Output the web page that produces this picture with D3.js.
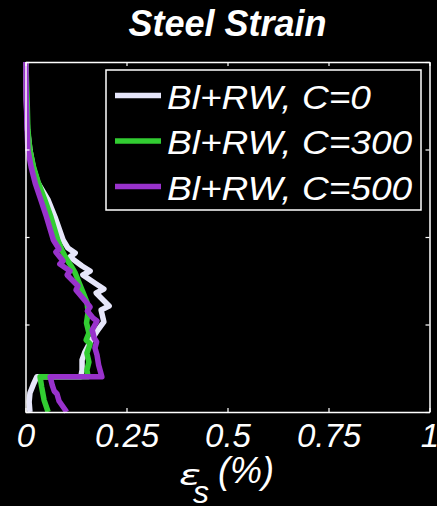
<!DOCTYPE html>
<html>
<head>
<meta charset="utf-8">
<script src="https://cdn.jsdelivr.net/npm/d3@7"></script>
<style>
  html, body { margin: 0; padding: 0; background: #000; }
  svg { display: block; }
  text { font-family: "Liberation Sans", Arial, sans-serif; fill: #fff; }
</style>
</head>
<body>
<svg id="chart" width="437" height="506"></svg>
<script>
// Steel strain profiles (strain in %, height along the member)
const seriesNames = ["Bl+RW, C=0", "Bl+RW, C=300", "Bl+RW, C=500"];
const seriesColors = ["#e6e6fa", "#32cd32", "#9932cc"];

const strainC0 = [
  [0.001, 4.0], [0.002, 3.566], [0.005, 3.223], [0.011, 2.994], [0.019, 2.8],
  [0.031, 2.617], [0.056, 2.423], [0.073, 2.229], [0.093, 1.966], [0.105, 1.874],
  [0.123, 1.817], [0.110, 1.771], [0.140, 1.669], [0.160, 1.611], [0.142, 1.566],
  [0.175, 1.463], [0.194, 1.406], [0.175, 1.36], [0.192, 1.28], [0.207, 1.211],
  [0.187, 1.166], [0.194, 1.029], [0.179, 0.937], [0.160, 0.8], [0.147, 0.686],
  [0.140, 0.594], [0.140, 0.48], [0.137, 0.403], [0.028, 0.403], [0.019, 0.309],
  [0.011, 0.217], [0.009, 0.114], [0.011, 0]
];
const strainC300 = [
  [0.001, 4.0], [0.004, 3.566], [0.006, 3.223], [0.011, 2.994], [0.020, 2.8],
  [0.032, 2.617], [0.048, 2.423], [0.063, 2.229], [0.080, 1.966], [0.090, 1.851],
  [0.100, 1.76], [0.113, 1.669], [0.123, 1.589], [0.132, 1.486], [0.142, 1.371],
  [0.152, 1.257], [0.155, 1.143], [0.151, 1.017], [0.157, 0.903], [0.150, 0.823],
  [0.160, 0.777], [0.152, 0.674], [0.157, 0.571], [0.152, 0.48], [0.155, 0.403],
  [0.036, 0.403], [0.040, 0.286], [0.046, 0.137], [0.056, 0]
];
const strainC500 = [
  [0.001, 4.0], [0.002, 3.566], [0.004, 3.223], [0.006, 2.994], [0.014, 2.8],
  [0.024, 2.617], [0.038, 2.423], [0.052, 2.229], [0.069, 1.966], [0.083, 1.863],
  [0.075, 1.829], [0.093, 1.726], [0.085, 1.691], [0.110, 1.611], [0.103, 1.566],
  [0.130, 1.44], [0.125, 1.394], [0.150, 1.257], [0.160, 1.2], [0.153, 1.154],
  [0.167, 1.074], [0.177, 1.04], [0.165, 0.937], [0.170, 0.846], [0.176, 0.8],
  [0.172, 0.731], [0.177, 0.651], [0.181, 0.537], [0.189, 0.403], [0.061, 0.403],
  [0.066, 0.309], [0.071, 0.24], [0.078, 0.206], [0.083, 0.126], [0.102, 0]
];
const seriesData = [strainC0, strainC300, strainC500];

const xTicks = [0, 0.25, 0.5, 0.75, 1];
const xTickLabels = ["0", "0.25", "0.5", "0.75", "1"];
const yTicks = [0, 1, 2, 3, 4];

const titleText = "Steel Strain";

const svg = d3.select("#chart");
const plot = { left: 25.5, right: 429.5, top: 62, bottom: 412 };

const x = d3.scaleLinear().domain([0, 1]).range([plot.left, plot.right]);
const y = d3.scaleLinear().domain([0, 4]).range([plot.bottom, plot.top]);

// Title
svg.append("text")
  .attr("x", 227.5).attr("y", 36)
  .attr("text-anchor", "middle")
  .style("font-size", "36px").style("font-weight", "bold").style("font-style", "italic")
  .text(titleText);

// Curves
const line = d3.line().x(d => x(d[0])).y(d => y(d[1]));
svg.append("g").selectAll("path")
  .data(seriesData)
  .join("path")
  .attr("d", line)
  .attr("fill", "none")
  .attr("stroke", (d, i) => seriesColors[i])
  .attr("stroke-width", 5.5)
  .attr("stroke-linejoin", "round");

// Frame with inward ticks on all four sides
const axisStyle = g => {
  g.select(".domain").attr("stroke", "#fff").attr("stroke-width", 1.5);
  g.selectAll(".tick line").attr("stroke", "#fff").attr("stroke-width", 1.2);
};
svg.append("g").attr("transform", `translate(0,${plot.bottom})`)
  .call(d3.axisBottom(x).tickValues(xTicks).tickFormat((d, i) => xTickLabels[i])
    .tickSizeInner(-4).tickSizeOuter(0).tickPadding(12))
  .call(axisStyle)
  .call(g => g.selectAll(".tick text")
    .attr("fill", "#fff").attr("dy", null).attr("y", 35)
    .style("font-size", "33px").style("font-style", "italic")
    .style("font-family", "'Liberation Sans', Arial, sans-serif"));
svg.append("g").attr("transform", `translate(0,${plot.top})`)
  .call(d3.axisTop(x).tickValues(xTicks).tickFormat("").tickSizeInner(-4).tickSizeOuter(0))
  .call(axisStyle);
svg.append("g").attr("transform", `translate(${plot.left},0)`)
  .call(d3.axisLeft(y).tickValues(yTicks).tickFormat("").tickSizeInner(-4).tickSizeOuter(0))
  .call(axisStyle);
svg.append("g").attr("transform", `translate(${plot.right},0)`)
  .call(d3.axisRight(y).tickValues(yTicks).tickFormat("").tickSizeInner(-4).tickSizeOuter(0))
  .call(axisStyle);

// X axis label: epsilon_s (%)
const xl = svg.append("g").style("font-style", "italic");
xl.append("text").attr("transform", "translate(179,485) scale(1.4,1)")
  .style("font-size", "29px")
  .style("font-family", "'DejaVu Sans', sans-serif").text("ε");
xl.append("text").attr("x", 193).attr("y", 503).style("font-size", "32px").text("s");
xl.append("text").attr("x", 218).attr("y", 483).style("font-size", "36px").text("(%)");

// Legend
const legend = svg.append("g");
legend.append("rect")
  .attr("x", 106).attr("y", 70).attr("width", 315).attr("height", 140)
  .attr("fill", "#000").attr("stroke", "#fff").attr("stroke-width", 1.5);
const rows = legend.selectAll("g.row").data(seriesNames).join("g")
  .attr("class", "row")
  .attr("transform", (d, i) => `translate(0,${108.5 + i * 45.5})`);
rows.append("line")
  .attr("x1", 115).attr("x2", 161).attr("y1", -13).attr("y2", -13)
  .attr("stroke", (d, i) => seriesColors[i]).attr("stroke-width", 5.5);
rows.append("text")
  .attr("x", 167).attr("y", 0)
  .style("font-size", "34px").style("font-style", "italic")
  .text(d => d)
  .each(function () {
    // legend lettering runs a little wider than the stock face
    const w = this.getComputedTextLength();
    d3.select(this).attr("textLength", w * 1.09).attr("lengthAdjust", "spacingAndGlyphs");
  });
</script>
</body>
</html>
